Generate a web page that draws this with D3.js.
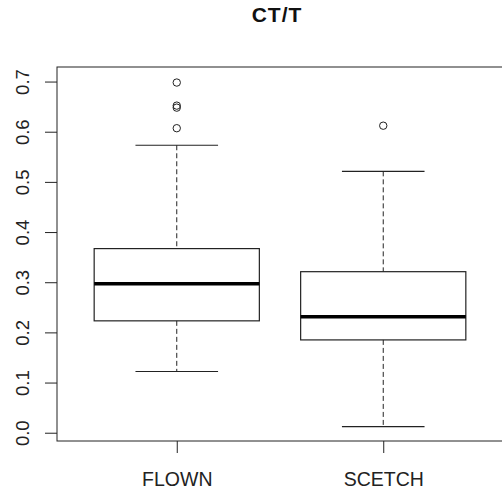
<!DOCTYPE html>
<html>
<head>
<meta charset="utf-8">
<script src="https://cdn.jsdelivr.net/npm/d3@7/dist/d3.min.js"></script>
<style>
  body { margin: 0; background: #fff; }
  svg { display: block; font-family: "Liberation Sans", Arial, sans-serif; }
</style>
</head>
<body>
<div id="chart"></div>
<script>
// box summary per group
const groups = ['FLOWN', 'SCETCH'];
const whiskerLow = [0.122, 0.012];
const q1 = [0.223, 0.185];
const median = [0.297, 0.231];
const q3 = [0.367, 0.321];
const whiskerHigh = [0.573, 0.521];
const outliers = [[0.607, 0.648, 0.652, 0.698], [0.612]];
const yTicks = [0.0, 0.1, 0.2, 0.3, 0.4, 0.5, 0.6, 0.7];

const width = 502, height = 499;
const svg = d3.select('#chart').append('svg')
    .attr('width', width)
    .attr('height', height);

// R style: groups at 1..n, xlim extended by 4%
const x = d3.scaleLinear().domain([0.42, 2.58]).range([57, 503]);
const y = d3.scaleLinear().domain([-0.0165, 0.729]).range([441, 67]);

const boxHalf = 0.4, stapleHalf = 0.2;

// plot frame
svg.append('rect')
    .attr('x', x(0.42)).attr('y', y(0.729))
    .attr('width', x(2.58) - x(0.42))
    .attr('height', y(-0.0165) - y(0.729))
    .attr('fill', 'none')
    .attr('stroke', '#222')
    .attr('stroke-width', 1);

// y axis
const yAxis = d3.axisLeft(y).tickValues(yTicks).tickSize(12).tickFormat(d3.format('.1f'));
const gy = svg.append('g').attr('transform', `translate(${x(0.42)},0)`).call(yAxis);
gy.select('.domain').remove();
gy.selectAll('line').attr('stroke', '#222');
gy.selectAll('text')
    .attr('x', 0).attr('y', 0).attr('dy', 0)
    .attr('transform', 'translate(-28,0) rotate(-90)')
    .attr('text-anchor', 'middle')
    .style('font-size', '18.5px')
    .attr('fill', '#222');

// x axis
const xAxis = d3.axisBottom(x).tickValues([1, 2]).tickSize(12).tickFormat((d) => groups[d - 1]);
const gx = svg.append('g').attr('transform', `translate(0,${y(-0.0165)})`).call(xAxis);
gx.select('.domain').remove();
gx.selectAll('line').attr('stroke', '#222');
gx.selectAll('text')
    .attr('y', 0).attr('dy', 0)
    .attr('transform', 'translate(0,45)')
    .style('font-size', '19.5px')
    .attr('fill', '#222');

const boxes = svg.selectAll('.box')
    .data(groups)
    .enter()
    .append('g')
    .attr('class', 'box');

// dashed whiskers
boxes.append('line')
    .attr('x1', (d, i) => x(i + 1)).attr('x2', (d, i) => x(i + 1))
    .attr('y1', (d, i) => y(whiskerHigh[i])).attr('y2', (d, i) => y(q3[i]))
    .attr('stroke', '#222').attr('stroke-dasharray', '5,3');
boxes.append('line')
    .attr('x1', (d, i) => x(i + 1)).attr('x2', (d, i) => x(i + 1))
    .attr('y1', (d, i) => y(q1[i])).attr('y2', (d, i) => y(whiskerLow[i]))
    .attr('stroke', '#222').attr('stroke-dasharray', '5,3');

// staples
[whiskerHigh, whiskerLow].forEach((arr) => {
    boxes.append('line')
        .attr('x1', (d, i) => x(i + 1 - stapleHalf)).attr('x2', (d, i) => x(i + 1 + stapleHalf))
        .attr('y1', (d, i) => y(arr[i])).attr('y2', (d, i) => y(arr[i]))
        .attr('stroke', '#222').attr('stroke-width', 1.2);
});

// box
boxes.append('rect')
    .attr('x', (d, i) => x(i + 1 - boxHalf))
    .attr('width', (d, i) => x(i + 1 + boxHalf) - x(i + 1 - boxHalf))
    .attr('y', (d, i) => y(q3[i]))
    .attr('height', (d, i) => y(q1[i]) - y(q3[i]))
    .attr('fill', 'none')
    .attr('stroke', '#222')
    .attr('stroke-width', 1.2);

// median
boxes.append('line')
    .attr('x1', (d, i) => x(i + 1 - boxHalf)).attr('x2', (d, i) => x(i + 1 + boxHalf))
    .attr('y1', (d, i) => y(median[i])).attr('y2', (d, i) => y(median[i]))
    .attr('stroke', '#000').attr('stroke-width', 3.5);

// outliers
boxes.each(function (d, i) {
    d3.select(this).selectAll('circle')
        .data(outliers[i])
        .enter()
        .append('circle')
        .attr('cx', x(i + 1))
        .attr('cy', (v) => y(v))
        .attr('r', 3.7)
        .attr('fill', 'none')
        .attr('stroke', '#222')
        .attr('stroke-width', 1);
});

// title
svg.append('text')
    .attr('x', 277).attr('y', 22)
    .attr('text-anchor', 'middle')
    .style('font-size', '21px')
    .style('font-weight', 'bold')
    .style('letter-spacing', '1px')
    .attr('fill', '#111')
    .text('CT/T');
</script>
</body>
</html>
